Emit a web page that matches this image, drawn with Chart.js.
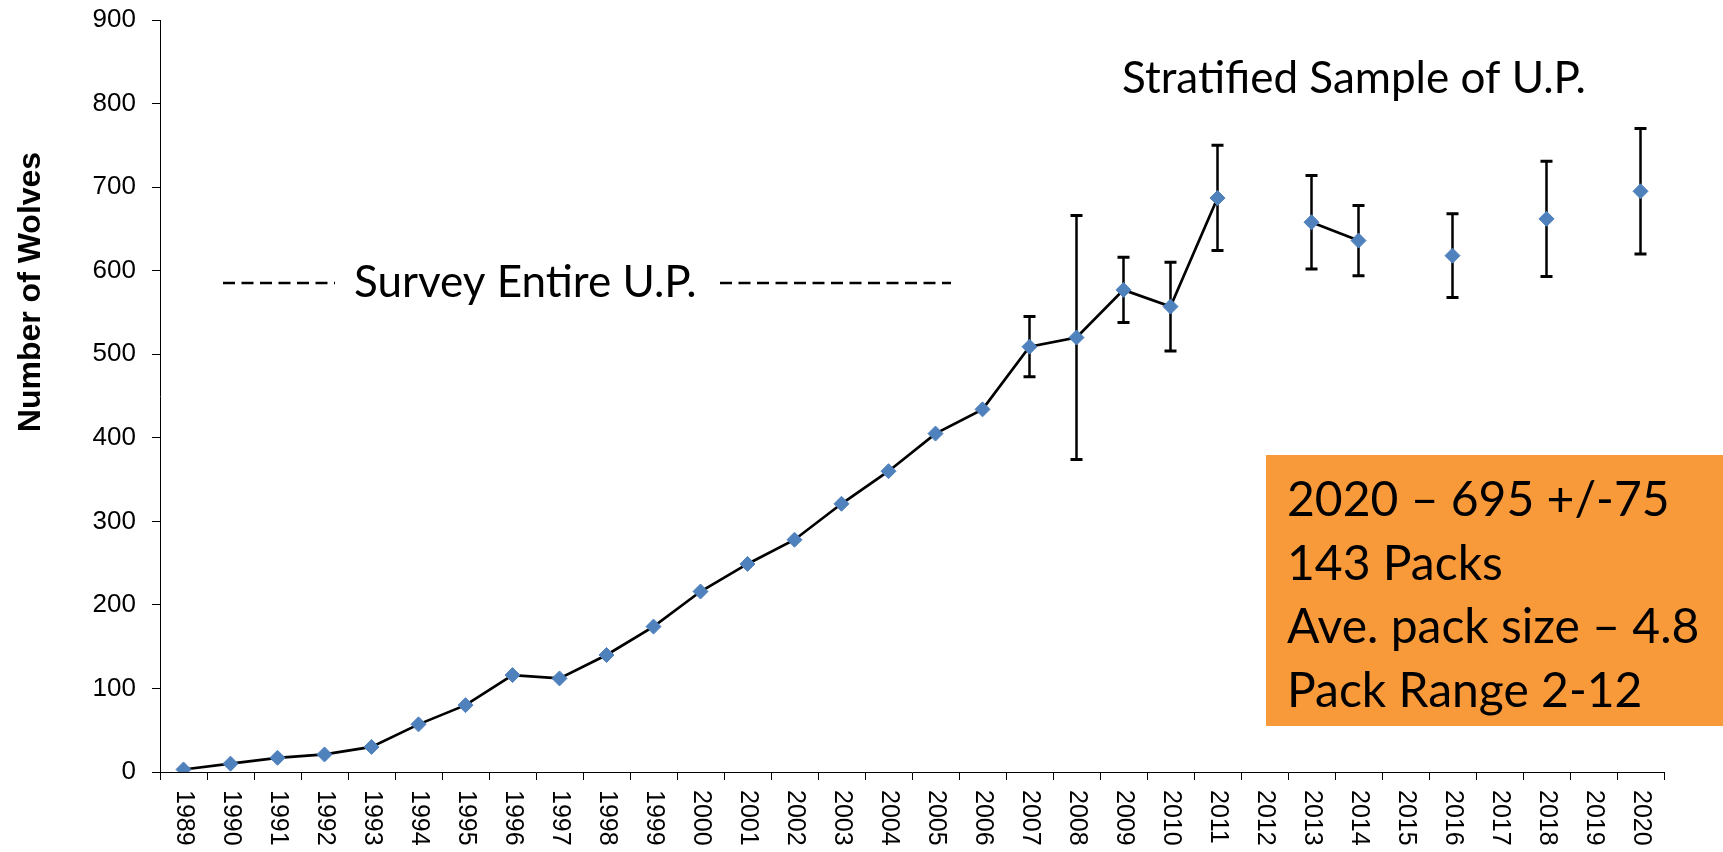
<!DOCTYPE html>
<html>
<head>
<meta charset="utf-8">
<script src="https://cdn.jsdelivr.net/npm/chart.js@4/dist/chart.umd.min.js"></script>
<style>
  html, body { margin: 0; padding: 0; background: #fff; }
  #wrap { width: 1723px; height: 852px; position: relative; }
</style>
</head>
<body>
<div id="wrap"><canvas id="c" width="1723" height="852"></canvas></div>
<script>
// ---- data ----
const years = ['1989','1990','1991','1992','1993','1994','1995','1996','1997','1998',
               '1999','2000','2001','2002','2003','2004','2005','2006','2007','2008',
               '2009','2010','2011','2012','2013','2014','2015','2016','2017','2018',
               '2019','2020'];
const wolves = [3, 10, 17, 21, 30, 57, 80, 116, 112, 140,
                174, 216, 249, 278, 321, 360, 405, 434, 509, 520,
                577, 557, 687, null, 658, 636, null, 618, null, 662,
                null, 695];
const errorBar = [null, null, null, null, null, null, null, null, null, null,
                  null, null, null, null, null, null, null, null, 36, 146,
                  39, 53, 63, null, 56, 42, null, 50, null, 69,
                  null, 75];
const yTickValues = [0, 100, 200, 300, 400, 500, 600, 700, 800, 900];
const yTitle = 'Number of Wolves';
const surveyLabel = 'Survey Entire U.P.';
const sampleLabel = 'Stratified Sample of U.P.';
const boxLines = ['2020 \u2013 695 +/-75', '143 Packs', 'Ave. pack size \u2013 4.8', 'Pack Range 2-12'];

// ---- plugins ----
const errorBarsPlugin = {
  id: 'errorBars',
  beforeDatasetsDraw(chart) {
    const ctx = chart.ctx, xs = chart.scales.x, ys = chart.scales.y;
    ctx.save();
    ctx.strokeStyle = '#000';
    errorBar.forEach((e, i) => {
      if (e == null || wolves[i] == null) return;
      const x = xs.getPixelForValue(i);
      const yTop = ys.getPixelForValue(wolves[i] + e);
      const yBot = ys.getPixelForValue(wolves[i] - e);
      ctx.lineWidth = 2.5;
      ctx.beginPath();
      ctx.moveTo(x, yTop); ctx.lineTo(x, yBot);
      ctx.stroke();
      ctx.lineWidth = 3;
      ctx.beginPath();
      ctx.moveTo(x - 6, yTop); ctx.lineTo(x + 6, yTop);
      ctx.moveTo(x - 6, yBot); ctx.lineTo(x + 6, yBot);
      ctx.stroke();
    });
    ctx.restore();
  }
};

const decorPlugin = {
  id: 'decor',
  afterDraw(chart) {
    const ctx = chart.ctx, xs = chart.scales.x;
    ctx.save();
    // x tick labels, rotated to read top-to-bottom
    ctx.fillStyle = '#000';
    ctx.font = '25px "Liberation Sans", Arial, sans-serif';
    ctx.textAlign = 'left';
    ctx.textBaseline = 'middle';
    years.forEach((lab, i) => {
      const x = xs.getPixelForValue(i);
      ctx.save();
      ctx.translate(x, xs.top + 18);
      ctx.rotate(Math.PI / 2);
      ctx.fillText(lab, 0, 0);
      ctx.restore();
    });

    // y axis title
    ctx.save();
    ctx.font = 'bold 32px "Liberation Sans", Arial, sans-serif';
    ctx.textAlign = 'center';
    ctx.textBaseline = 'middle';
    ctx.translate(31, 292);
    ctx.rotate(-Math.PI / 2);
    ctx.fillText(yTitle, 0, 0);
    ctx.restore();

    // survey annotation
    ctx.strokeStyle = '#000';
    ctx.lineWidth = 2.5;
    ctx.setLineDash([12, 6.5]);
    ctx.beginPath();
    ctx.moveTo(223, 283); ctx.lineTo(335, 283);
    ctx.moveTo(720, 283); ctx.lineTo(951, 283);
    ctx.stroke();
    ctx.setLineDash([]);
    ctx.font = '44px Lato, "Open Sans", sans-serif';
    ctx.textAlign = 'left';
    ctx.textBaseline = 'alphabetic';
    ctx.fillText(surveyLabel, 354, 297);
    ctx.fillText(sampleLabel, 1122, 93);

    // orange info box
    ctx.fillStyle = '#F8993A';
    ctx.fillRect(1266, 455, 457, 271);
    ctx.fillStyle = '#000';
    ctx.font = '48px Lato, "Open Sans", sans-serif';
    boxLines.forEach((t, k) => ctx.fillText(t, 1287, 516 + k * 63.5));
    ctx.restore();
  }
};

new Chart(document.getElementById('c').getContext('2d'), {
  type: 'line',
  data: {
    labels: years,
    datasets: [{
      data: wolves,
      borderColor: '#000',
      borderWidth: 2.7,
      tension: 0,
      fill: false,
      spanGaps: false,
      pointStyle: 'rectRot',
      pointRadius: 7.5,
      pointBackgroundColor: '#4F81BD',
      pointBorderColor: '#4F81BD',
      pointBorderWidth: 1
    }]
  },
  options: {
    responsive: false,
    animation: false,
    devicePixelRatio: 1,
    layout: { padding: { top: 20, right: 59, left: 0, bottom: 0 } },
    plugins: { legend: { display: false }, tooltip: { enabled: false } },
    scales: {
      x: {
        offset: true,
        grid: { offset: true, drawOnChartArea: false, drawTicks: true, tickLength: 8, color: '#000', lineWidth: 1 },
        border: { display: true, color: '#000', width: 1 },
        ticks: { display: false },
        afterFit: s => { s.height = 80; s.paddingLeft = 0; s.paddingRight = 0; }
      },
      y: {
        min: 0,
        max: 900,
        afterBuildTicks: s => { s.ticks = yTickValues.map(v => ({ value: v })); },
        ticks: { padding: 16, color: '#000', font: { family: '"Liberation Sans", Arial, sans-serif', size: 26 } },
        grid: { drawOnChartArea: false, drawTicks: true, tickLength: 8, color: '#000', lineWidth: 1 },
        border: { display: true, color: '#000', width: 1 },
        afterFit: s => { s.width = 160; s.paddingTop = 0; s.paddingBottom = 0; }
      }
    }
  },
  plugins: [errorBarsPlugin, decorPlugin]
});
</script>
</body>
</html>
